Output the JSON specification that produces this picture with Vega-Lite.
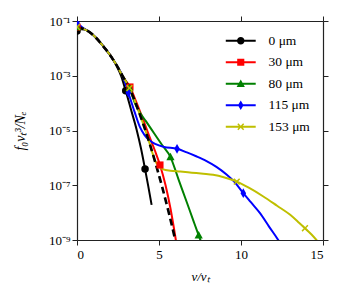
{
  "$schema": "https://vega.github.io/schema/vega-lite/v6.json",
  "width": 246,
  "height": 219,
  "autosize": {"type": "none"},
  "padding": {"left": 77, "top": 21, "right": 27, "bottom": 60},
  "config": {
    "font": "Liberation Serif",
    "view": {"stroke": null},
    "axis": {
      "domainColor": "#222222",
      "domainWidth": 1.2,
      "tickColor": "#222222",
      "tickWidth": 1,
      "tickSize": 5,
      "grid": false,
      "labelFont": "Liberation Serif",
      "labelFontSize": 13,
      "labelColor": "#000000",
      "titleFont": "Liberation Serif",
      "titleFontSize": 13,
      "titleFontWeight": "normal",
      "titleFontStyle": "italic",
      "titleColor": "#000000"
    },
    "legend": {
      "orient": "top-right",
      "offset": 13,
      "symbolSize": 56,
      "symbolStrokeWidth": 0,
      "symbolOpacity": 1,
      "labelFont": "Liberation Serif",
      "labelFontSize": 13.5,
      "labelColor": "#000000",
      "labelOffset": 21,
      "rowPadding": 6.5
    }
  },
  "data": {
    "values": [
      {"s": "0 μm", "v": 0, "f": 4.27e-2, "m": 1},
      {"s": "0 μm", "v": 0.25, "f": 5.01e-2, "m": 0},
      {"s": "0 μm", "v": 0.5, "f": 4.90e-2, "m": 0},
      {"s": "0 μm", "v": 0.8, "f": 3.72e-2, "m": 0},
      {"s": "0 μm", "v": 1.2, "f": 2.29e-2, "m": 0},
      {"s": "0 μm", "v": 1.6, "f": 1.20e-2, "m": 0},
      {"s": "0 μm", "v": 2.0, "f": 5.89e-3, "m": 0},
      {"s": "0 μm", "v": 2.4, "f": 2.40e-3, "m": 0},
      {"s": "0 μm", "v": 2.7, "f": 9.55e-4, "m": 0},
      {"s": "0 μm", "v": 2.97, "f": 2.82e-4, "m": 1},
      {"s": "0 μm", "v": 3.3, "f": 5.62e-5, "m": 0},
      {"s": "0 μm", "v": 3.64, "f": 1.05e-5, "m": 0},
      {"s": "0 μm", "v": 3.9, "f": 2.24e-6, "m": 0},
      {"s": "0 μm", "v": 4.15, "f": 3.89e-7, "m": 1},
      {"s": "0 μm", "v": 4.35, "f": 8.91e-8, "m": 0},
      {"s": "0 μm", "v": 4.55, "f": 1.91e-8, "m": 0},

      {"s": "30 μm", "v": 0, "f": 6.03e-2, "m": 1},
      {"s": "30 μm", "v": 0.4, "f": 5.13e-2, "m": 0},
      {"s": "30 μm", "v": 0.8, "f": 3.80e-2, "m": 0},
      {"s": "30 μm", "v": 1.2, "f": 2.29e-2, "m": 0},
      {"s": "30 μm", "v": 1.6, "f": 1.20e-2, "m": 0},
      {"s": "30 μm", "v": 2.0, "f": 5.89e-3, "m": 0},
      {"s": "30 μm", "v": 2.4, "f": 2.51e-3, "m": 0},
      {"s": "30 μm", "v": 2.8, "f": 9.33e-4, "m": 0},
      {"s": "30 μm", "v": 3.23, "f": 3.89e-4, "m": 1},
      {"s": "30 μm", "v": 3.6, "f": 1.17e-4, "m": 0},
      {"s": "30 μm", "v": 4.0, "f": 2.82e-5, "m": 0},
      {"s": "30 μm", "v": 4.4, "f": 6.31e-6, "m": 0},
      {"s": "30 μm", "v": 4.76, "f": 1.78e-6, "m": 0},
      {"s": "30 μm", "v": 5.06, "f": 5.50e-7, "m": 1},
      {"s": "30 μm", "v": 5.4, "f": 1.00e-7, "m": 0},
      {"s": "30 μm", "v": 5.7, "f": 1.41e-8, "m": 0},
      {"s": "30 μm", "v": 6.0, "f": 1.26e-9, "m": 0},
      {"s": "30 μm", "v": 6.08, "f": 6.31e-10, "m": 0},

      {"s": "80 μm", "v": 0, "f": 6.03e-2, "m": 1},
      {"s": "80 μm", "v": 0.4, "f": 5.13e-2, "m": 0},
      {"s": "80 μm", "v": 0.8, "f": 3.80e-2, "m": 0},
      {"s": "80 μm", "v": 1.2, "f": 2.29e-2, "m": 0},
      {"s": "80 μm", "v": 1.6, "f": 1.20e-2, "m": 0},
      {"s": "80 μm", "v": 2.0, "f": 5.89e-3, "m": 0},
      {"s": "80 μm", "v": 2.4, "f": 2.51e-3, "m": 0},
      {"s": "80 μm", "v": 2.8, "f": 9.33e-4, "m": 0},
      {"s": "80 μm", "v": 3.2, "f": 3.55e-4, "m": 1},
      {"s": "80 μm", "v": 3.5, "f": 1.12e-4, "m": 0},
      {"s": "80 μm", "v": 3.74, "f": 5.62e-5, "m": 0},
      {"s": "80 μm", "v": 4.2, "f": 2.19e-5, "m": 0},
      {"s": "80 μm", "v": 4.7, "f": 7.94e-6, "m": 0},
      {"s": "80 μm", "v": 5.2, "f": 2.88e-6, "m": 0},
      {"s": "80 μm", "v": 5.7, "f": 1.07e-6, "m": 1},
      {"s": "80 μm", "v": 6.2, "f": 1.58e-7, "m": 0},
      {"s": "80 μm", "v": 6.7, "f": 2.34e-8, "m": 0},
      {"s": "80 μm", "v": 7.1, "f": 5.01e-9, "m": 0},
      {"s": "80 μm", "v": 7.42, "f": 1.48e-9, "m": 1},
      {"s": "80 μm", "v": 7.6, "f": 7.59e-10, "m": 0},

      {"s": "115 μm", "v": 0, "f": 8.51e-2, "m": 1},
      {"s": "115 μm", "v": 0.15, "f": 7.08e-2, "m": 0},
      {"s": "115 μm", "v": 0.4, "f": 5.37e-2, "m": 0},
      {"s": "115 μm", "v": 0.8, "f": 3.80e-2, "m": 0},
      {"s": "115 μm", "v": 1.2, "f": 2.29e-2, "m": 0},
      {"s": "115 μm", "v": 1.6, "f": 1.20e-2, "m": 0},
      {"s": "115 μm", "v": 2.0, "f": 5.89e-3, "m": 0},
      {"s": "115 μm", "v": 2.4, "f": 2.51e-3, "m": 0},
      {"s": "115 μm", "v": 2.8, "f": 9.33e-4, "m": 0},
      {"s": "115 μm", "v": 3.13, "f": 2.40e-4, "m": 1},
      {"s": "115 μm", "v": 3.5, "f": 5.01e-5, "m": 0},
      {"s": "115 μm", "v": 3.84, "f": 1.32e-5, "m": 0},
      {"s": "115 μm", "v": 4.1, "f": 7.08e-6, "m": 0},
      {"s": "115 μm", "v": 4.4, "f": 4.47e-6, "m": 0},
      {"s": "115 μm", "v": 4.8, "f": 3.16e-6, "m": 0},
      {"s": "115 μm", "v": 5.3, "f": 2.51e-6, "m": 0},
      {"s": "115 μm", "v": 6.1, "f": 2.14e-6, "m": 1},
      {"s": "115 μm", "v": 6.7, "f": 1.58e-6, "m": 0},
      {"s": "115 μm", "v": 7.3, "f": 1.12e-6, "m": 0},
      {"s": "115 μm", "v": 7.9, "f": 7.59e-7, "m": 0},
      {"s": "115 μm", "v": 8.5, "f": 4.68e-7, "m": 0},
      {"s": "115 μm", "v": 9.1, "f": 2.51e-7, "m": 0},
      {"s": "115 μm", "v": 9.6, "f": 1.32e-7, "m": 0},
      {"s": "115 μm", "v": 10.14, "f": 5.13e-8, "m": 1},
      {"s": "115 μm", "v": 10.6, "f": 2.40e-8, "m": 0},
      {"s": "115 μm", "v": 11.16, "f": 9.55e-9, "m": 0},
      {"s": "115 μm", "v": 11.7, "f": 3.16e-9, "m": 0},
      {"s": "115 μm", "v": 12.27, "f": 1.0e-9, "m": 0},
      {"s": "115 μm", "v": 12.4, "f": 7.59e-10, "m": 0},

      {"s": "153 μm", "v": 0, "f": 6.03e-2, "m": 1},
      {"s": "153 μm", "v": 0.4, "f": 5.13e-2, "m": 0},
      {"s": "153 μm", "v": 0.8, "f": 3.80e-2, "m": 0},
      {"s": "153 μm", "v": 1.2, "f": 2.29e-2, "m": 0},
      {"s": "153 μm", "v": 1.6, "f": 1.20e-2, "m": 0},
      {"s": "153 μm", "v": 2.0, "f": 5.89e-3, "m": 0},
      {"s": "153 μm", "v": 2.4, "f": 2.51e-3, "m": 0},
      {"s": "153 μm", "v": 2.8, "f": 9.33e-4, "m": 0},
      {"s": "153 μm", "v": 3.2, "f": 3.55e-4, "m": 1},
      {"s": "153 μm", "v": 3.6, "f": 9.12e-5, "m": 0},
      {"s": "153 μm", "v": 4.0, "f": 2.00e-5, "m": 0},
      {"s": "153 μm", "v": 4.4, "f": 3.80e-6, "m": 0},
      {"s": "153 μm", "v": 4.76, "f": 7.94e-7, "m": 0},
      {"s": "153 μm", "v": 5.0, "f": 4.79e-7, "m": 0},
      {"s": "153 μm", "v": 5.26, "f": 3.80e-7, "m": 0},
      {"s": "153 μm", "v": 5.7, "f": 3.39e-7, "m": 0},
      {"s": "153 μm", "v": 6.3, "f": 3.16e-7, "m": 0},
      {"s": "153 μm", "v": 7.0, "f": 2.88e-7, "m": 0},
      {"s": "153 μm", "v": 7.7, "f": 2.63e-7, "m": 0},
      {"s": "153 μm", "v": 8.3, "f": 2.40e-7, "m": 0},
      {"s": "153 μm", "v": 9.0, "f": 1.91e-7, "m": 0},
      {"s": "153 μm", "v": 9.74, "f": 1.35e-7, "m": 1},
      {"s": "153 μm", "v": 10.5, "f": 7.94e-8, "m": 0},
      {"s": "153 μm", "v": 11.36, "f": 3.89e-8, "m": 0},
      {"s": "153 μm", "v": 12.2, "f": 1.78e-8, "m": 0},
      {"s": "153 μm", "v": 13.0, "f": 8.32e-9, "m": 0},
      {"s": "153 μm", "v": 13.5, "f": 4.47e-9, "m": 0},
      {"s": "153 μm", "v": 13.9, "f": 2.69e-9, "m": 1},
      {"s": "153 μm", "v": 14.3, "f": 1.58e-9, "m": 0},
      {"s": "153 μm", "v": 14.6, "f": 1.0e-9, "m": 0},
      {"s": "153 μm", "v": 14.7, "f": 8.51e-10, "m": 0},

      {"s": "M", "v": 0, "f": 6.03e-2, "m": 0},
      {"s": "M", "v": 0.4, "f": 5.13e-2, "m": 0},
      {"s": "M", "v": 0.8, "f": 3.80e-2, "m": 0},
      {"s": "M", "v": 1.2, "f": 2.29e-2, "m": 0},
      {"s": "M", "v": 1.6, "f": 1.20e-2, "m": 0},
      {"s": "M", "v": 2.0, "f": 5.89e-3, "m": 0},
      {"s": "M", "v": 2.4, "f": 2.51e-3, "m": 0},
      {"s": "M", "v": 2.8, "f": 9.33e-4, "m": 0},
      {"s": "M", "v": 3.2, "f": 3.55e-4, "m": 0},
      {"s": "M", "v": 3.6, "f": 9.12e-5, "m": 0},
      {"s": "M", "v": 4.0, "f": 2.00e-5, "m": 0},
      {"s": "M", "v": 4.4, "f": 3.80e-6, "m": 0},
      {"s": "M", "v": 4.8, "f": 6.03e-7, "m": 0},
      {"s": "M", "v": 5.2, "f": 8.32e-8, "m": 0},
      {"s": "M", "v": 5.6, "f": 9.77e-9, "m": 0},
      {"s": "M", "v": 6.0, "f": 9.55e-10, "m": 0},
      {"s": "M", "v": 6.1, "f": 5.25e-10, "m": 0}
    ]
  },
  "resolve": {"axis": {"x": "independent", "y": "independent"}},
  "layer": [
    {
      "transform": [{"filter": "datum.s != 'M'"}],
      "mark": {"type": "line", "strokeWidth": 2, "interpolate": "monotone", "clip": true},
      "encoding": {
        "x": {"field": "v", "type": "quantitative",
              "scale": {"domain": [0, 15], "nice": false, "zero": false},
              "axis": {"orient": "bottom", "values": [0, 5, 10, 15], "title": "v/vₜ", "labelPadding": 3, "titlePadding": 9}},
        "y": {"field": "f", "type": "quantitative",
              "scale": {"type": "log", "domain": [1e-9, 1e-1], "nice": false},
              "axis": {"orient": "left", "values": [1e-1, 1e-3, 1e-5, 1e-7, 1e-9], "title": "f₀vₜ³/Nₑ", "titleFontSize": 14, "titlePadding": 21,
                       "labelExpr": "'10' + (round(log(datum.value)/LN10) == -1 ? '⁻¹' : round(log(datum.value)/LN10) == -3 ? '⁻³' : round(log(datum.value)/LN10) == -5 ? '⁻⁵' : round(log(datum.value)/LN10) == -7 ? '⁻⁷' : '⁻⁹')"}},
        "stroke": {"field": "s", "type": "nominal",
                  "scale": {"domain": ["M", "0 μm", "30 μm", "80 μm", "115 μm", "153 μm"], "range": ["#000000", "#000000", "#ff0000", "#008000", "#0000ff", "#bfbf00"]},
                  "legend": null}
      }
    },
    {
      "transform": [{"filter": "datum.s == 'M'"}],
      "mark": {"type": "line", "strokeWidth": 2.6, "strokeDash": [7, 4], "color": "#000000", "interpolate": "monotone", "clip": true},
      "encoding": {
        "x": {"field": "v", "type": "quantitative",
              "axis": {"orient": "top", "values": [0, 5, 10, 15], "labels": false, "title": null}},
        "y": {"field": "f", "type": "quantitative", "scale": {"type": "log"},
              "axis": {"orient": "right", "values": [1e-1, 1e-3, 1e-5, 1e-7, 1e-9], "labels": false, "title": null}}
      }
    },
    {
      "transform": [{"filter": "datum.s == '0 μm' && datum.m == 1"}],
      "mark": {"type": "point", "shape": "circle", "filled": true, "size": 56, "color": "#000000", "opacity": 1, "strokeWidth": 0, "clip": true},
      "encoding": {
        "x": {"field": "v", "type": "quantitative", "axis": null},
        "y": {"field": "f", "type": "quantitative", "scale": {"type": "log"}, "axis": null}
      }
    },
    {
      "transform": [{"filter": "datum.s == '30 μm' && datum.m == 1"}],
      "mark": {"type": "point", "shape": "M-0.95,-0.95H0.95V0.95H-0.95Z", "filled": true, "size": 56, "color": "#ff0000", "opacity": 1, "strokeWidth": 0, "clip": true},
      "encoding": {
        "x": {"field": "v", "type": "quantitative", "axis": null},
        "y": {"field": "f", "type": "quantitative", "scale": {"type": "log"}, "axis": null}
      }
    },
    {
      "transform": [{"filter": "datum.s == '80 μm' && datum.m == 1"}],
      "mark": {"type": "point", "shape": "M0,-1.15L1.1,0.85H-1.1Z", "filled": true, "size": 56, "color": "#008000", "opacity": 1, "strokeWidth": 0, "clip": true},
      "encoding": {
        "x": {"field": "v", "type": "quantitative", "axis": null},
        "y": {"field": "f", "type": "quantitative", "scale": {"type": "log"}, "axis": null}
      }
    },
    {
      "transform": [{"filter": "datum.s == '115 μm' && datum.m == 1"}],
      "mark": {"type": "point", "shape": "M0,-1.3L0.75,0L0,1.3L-0.75,0Z", "filled": true, "size": 56, "color": "#0000ff", "opacity": 1, "strokeWidth": 0, "clip": true},
      "encoding": {
        "x": {"field": "v", "type": "quantitative", "axis": null},
        "y": {"field": "f", "type": "quantitative", "scale": {"type": "log"}, "axis": null}
      }
    },
    {
      "transform": [{"filter": "datum.s == '153 μm' && datum.m == 1"}],
      "mark": {"type": "point", "shape": "M0.636,-0.919L0.919,-0.636L0.283,0L0.919,0.636L0.636,0.919L0,0.283L-0.636,0.919L-0.919,0.636L-0.283,0L-0.919,-0.636L-0.636,-0.919L0,-0.283Z", "filled": true, "size": 56, "color": "#bfbf00", "opacity": 1, "strokeWidth": 0, "clip": true},
      "encoding": {
        "x": {"field": "v", "type": "quantitative", "axis": null},
        "y": {"field": "f", "type": "quantitative", "scale": {"type": "log"}, "axis": null}
      }
    },
    {
      "transform": [{"filter": "datum.m == 1 && datum.v == 0"}],
      "mark": {"type": "point", "filled": true, "size": 56, "opacity": 0, "strokeWidth": 0},
      "encoding": {
        "x": {"field": "v", "type": "quantitative", "axis": null},
        "y": {"field": "f", "type": "quantitative", "scale": {"type": "log"}, "axis": null},
        "color": {"field": "s", "type": "nominal", "title": null,
                  "scale": {"domain": ["0 μm", "30 μm", "80 μm", "115 μm", "153 μm"], "range": ["#000000", "#ff0000", "#008000", "#0000ff", "#bfbf00"]}},
        "shape": {"field": "s", "type": "nominal", "title": null,
                  "scale": {"domain": ["0 μm", "30 μm", "80 μm", "115 μm", "153 μm"],
                            "range": [
                              "M-4,-0.27H4V0.27H-4Z M1,0A1,1 0 1 1 -1,0A1,1 0 1 1 1,0Z",
                              "M-4,-0.27H4V0.27H-4Z M-0.95,-0.95H0.95V0.95H-0.95Z",
                              "M-4,-0.27H4V0.27H-4Z M0,-1.15L1.1,0.85H-1.1Z",
                              "M-4,-0.27H4V0.27H-4Z M0,-1.3L0.75,0L0,1.3L-0.75,0Z",
                              "M-4,-0.27H4V0.27H-4Z M0.636,-0.919L0.919,-0.636L0.283,0L0.919,0.636L0.636,0.919L0,0.283L-0.636,0.919L-0.919,0.636L-0.283,0L-0.919,-0.636L-0.636,-0.919L0,-0.283Z"
                            ]}}
      }
    }
  ]
}
